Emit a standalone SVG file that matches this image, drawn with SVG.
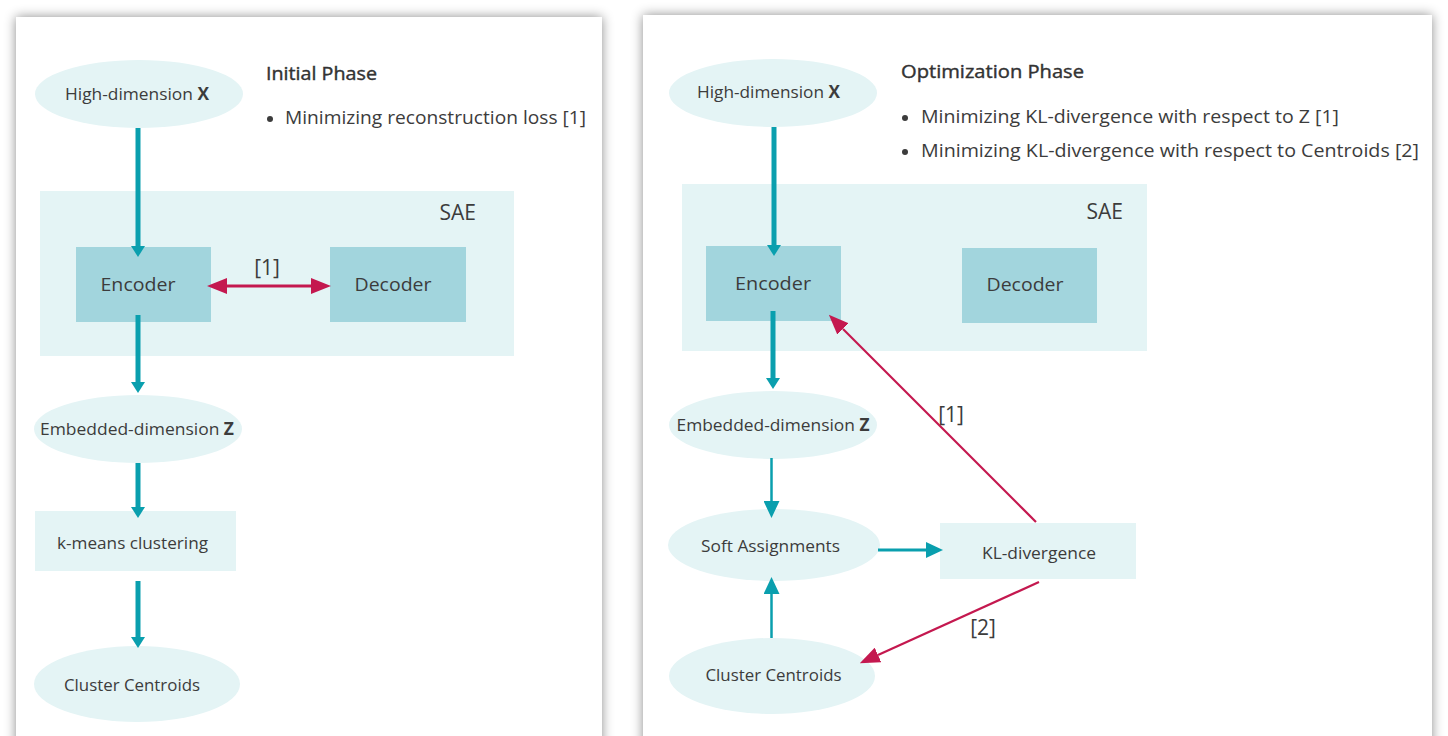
<svg xmlns="http://www.w3.org/2000/svg" width="1448" height="736" viewBox="0 0 1448 736">
<style>
  text { font-family: "Open Sans", "Liberation Sans", sans-serif; fill: #3c3c3c; }
  .lbl { font-size: 17px; text-anchor: middle; dominant-baseline: central; }
  .box { font-size: 19px; text-anchor: middle; dominant-baseline: central; }
  .title { font-size: 18px; font-weight: 500; stroke: #333333; stroke-width: 0.4; fill: #333333; }
  .bul { font-size: 18px; }
  .sae { font-size: 21px; }
  .ref { font-size: 21px; text-anchor: middle; dominant-baseline: central; }
  .ell { fill: #e4f4f5; }
  .lt { fill: #e4f4f5; }
  .dk { fill: #a2d5dd; }
  .tk { stroke: #0a9fae; stroke-width: 5; fill: none; }
  .tn { stroke: #0a9fae; stroke-width: 2.5; fill: none; }
  .tm { stroke: #0a9fae; stroke-width: 3; fill: none; }
  .rd { stroke: #c4184f; stroke-width: 2.2; fill: none; }
  .rdk { stroke: #c4184f; stroke-width: 3; fill: none; }
</style>
<defs>
  <filter id="sh" x="-5%" y="-5%" width="110%" height="110%">
    <feDropShadow dx="0" dy="0" stdDeviation="6" flood-color="#000" flood-opacity="0.45"/>
  </filter>
  <marker id="ht" markerUnits="userSpaceOnUse" markerWidth="11" markerHeight="14" refX="0" refY="7" orient="auto">
    <path d="M0,0 L11,7 L0,14 z" fill="#0a9fae"/>
  </marker>
  <marker id="ht2" markerUnits="userSpaceOnUse" markerWidth="17" markerHeight="16" refX="0" refY="8" orient="auto">
    <path d="M0,0 L17,8 L0,16 z" fill="#0a9fae"/>
  </marker>
  <marker id="hr" markerUnits="userSpaceOnUse" markerWidth="20" markerHeight="16" refX="0" refY="8" orient="auto-start-reverse">
    <path d="M0,0 L20,8 L0,16 z" fill="#c4184f"/>
  </marker>
</defs>
<rect width="1448" height="736" fill="#ffffff"/>
<rect x="16" y="17" width="586" height="740" fill="#ffffff" filter="url(#sh)"/>
<rect x="643" y="15" width="789" height="742" fill="#ffffff" filter="url(#sh)"/>

<!-- Panel 1 -->
<g id="p1-title">
  <text class="title" x="266" y="80" textLength="111" lengthAdjust="spacingAndGlyphs">Initial Phase</text>
  <circle cx="270" cy="119" r="3" fill="#3c3c3c"/>
  <text class="bul" x="285" y="124" textLength="301" lengthAdjust="spacingAndGlyphs">Minimizing reconstruction loss [1]</text>
</g>
<g id="p1-sae">
  <rect class="lt" x="40" y="191" width="474" height="165"/>
  <text class="sae" x="476" y="220" text-anchor="end">SAE</text>
</g>
<g id="p1-x">
  <ellipse class="ell" cx="139" cy="94" rx="104" ry="34"/>
  <text class="lbl" x="137" y="93" textLength="144" lengthAdjust="spacingAndGlyphs">High-dimension <tspan font-weight="bold">X</tspan></text>
</g>
<g id="p1-encoder">
  <rect class="dk" x="76" y="247" width="135" height="75"/>
  <text class="box" x="138" y="284" textLength="75" lengthAdjust="spacingAndGlyphs">Encoder</text>
</g>
<g id="p1-decoder">
  <rect class="dk" x="330" y="247" width="136" height="75"/>
  <text class="box" x="393" y="284" textLength="77" lengthAdjust="spacingAndGlyphs">Decoder</text>
</g>
<g id="p1-z">
  <ellipse class="ell" cx="138" cy="429" rx="104" ry="34"/>
  <text class="lbl" x="137" y="428" textLength="194" lengthAdjust="spacingAndGlyphs">Embedded-dimension <tspan font-weight="bold">Z</tspan></text>
</g>
<g id="p1-kmeans">
  <rect class="lt" x="35" y="511" width="201" height="60"/>
  <text class="lbl" x="132.5" y="542" textLength="151" lengthAdjust="spacingAndGlyphs">k-means clustering</text>
</g>
<g id="p1-centroids">
  <ellipse class="ell" cx="137" cy="684" rx="103" ry="38"/>
  <text class="lbl" x="132" y="684" textLength="136" lengthAdjust="spacingAndGlyphs">Cluster Centroids</text>
</g>

<!-- Panel 2 -->
<g id="p2-title">
  <text class="title" x="901" y="78" textLength="183" lengthAdjust="spacingAndGlyphs">Optimization Phase</text>
  <circle cx="905" cy="118" r="3" fill="#3c3c3c"/>
  <text class="bul" x="921" y="123" textLength="418" lengthAdjust="spacingAndGlyphs">Minimizing KL-divergence with respect to Z [1]</text>
  <circle cx="905" cy="152" r="3" fill="#3c3c3c"/>
  <text class="bul" x="921" y="157" textLength="498" lengthAdjust="spacingAndGlyphs">Minimizing KL-divergence with respect to Centroids [2]</text>
</g>
<g id="p2-sae">
  <rect class="lt" x="682" y="184" width="465" height="167"/>
  <text class="sae" x="1123" y="219" text-anchor="end">SAE</text>
</g>
<g id="p2-x">
  <ellipse class="ell" cx="773" cy="93" rx="104" ry="34"/>
  <text class="lbl" x="768.5" y="91" textLength="143" lengthAdjust="spacingAndGlyphs">High-dimension <tspan font-weight="bold">X</tspan></text>
</g>
<g id="p2-encoder">
  <rect class="dk" x="706" y="246" width="135" height="75"/>
  <text class="box" x="773" y="283" textLength="76" lengthAdjust="spacingAndGlyphs">Encoder</text>
</g>
<g id="p2-decoder">
  <rect class="dk" x="962" y="248" width="135" height="75"/>
  <text class="box" x="1025" y="284" textLength="77" lengthAdjust="spacingAndGlyphs">Decoder</text>
</g>
<g id="p2-z">
  <ellipse class="ell" cx="773" cy="425" rx="104" ry="34"/>
  <text class="lbl" x="773" y="424" textLength="193" lengthAdjust="spacingAndGlyphs">Embedded-dimension <tspan font-weight="bold">Z</tspan></text>
</g>
<g id="p2-soft">
  <ellipse class="ell" cx="774" cy="545" rx="106" ry="36"/>
  <text class="lbl" x="770.5" y="545" textLength="139" lengthAdjust="spacingAndGlyphs">Soft Assignments</text>
</g>
<g id="p2-kl">
  <rect class="lt" x="940" y="523" width="196" height="56"/>
  <text class="lbl" x="1039" y="552" textLength="114" lengthAdjust="spacingAndGlyphs">KL-divergence</text>
</g>
<g id="p2-centroids">
  <ellipse class="ell" cx="772" cy="676" rx="103" ry="38"/>
  <text class="lbl" x="773.5" y="674" textLength="136" lengthAdjust="spacingAndGlyphs">Cluster Centroids</text>
</g>

<!-- Connectors -->
<g id="connectors">
  <line class="tk" x1="138" y1="128" x2="138" y2="246" marker-end="url(#ht)"/>
  <line class="tk" x1="138" y1="315" x2="138" y2="382" marker-end="url(#ht)"/>
  <line class="tk" x1="138" y1="463" x2="138" y2="507" marker-end="url(#ht)"/>
  <line class="tk" x1="138" y1="581" x2="138" y2="637" marker-end="url(#ht)"/>
  <line class="rdk" x1="227" y1="286" x2="311" y2="286" marker-start="url(#hr)" marker-end="url(#hr)"/>
  <text class="ref" x="267" y="267">[1]</text>

  <line class="tk" x1="774" y1="127" x2="774" y2="245" marker-end="url(#ht)"/>
  <line class="tk" x1="773" y1="311" x2="773" y2="378" marker-end="url(#ht)"/>
  <line class="tn" x1="771.5" y1="458" x2="771.5" y2="501" marker-end="url(#ht2)"/>
  <line class="tn" x1="771.5" y1="638" x2="771.5" y2="594" marker-end="url(#ht2)"/>
  <line class="tm" x1="878" y1="550" x2="926" y2="550" marker-end="url(#ht2)"/>
  <line class="rd" x1="1036" y1="522" x2="843" y2="329" marker-end="url(#hr)"/>
  <text class="ref" x="951" y="414">[1]</text>
  <line class="rd" x1="1039" y1="582" x2="878" y2="655" marker-end="url(#hr)"/>
  <text class="ref" x="983" y="627">[2]</text>
</g>
</svg>
